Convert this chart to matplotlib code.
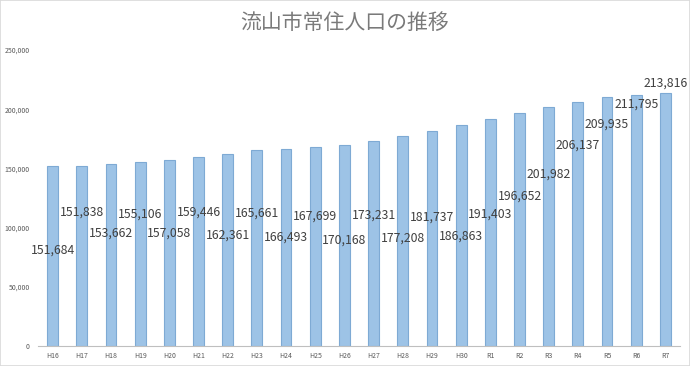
import matplotlib.pyplot as plt
from matplotlib.patches import Rectangle

plt.rcParams['font.family'] = ['Noto Sans CJK JP', 'DejaVu Sans']

# 流山市常住人口 (各年)
years = ['H16', 'H17', 'H18', 'H19', 'H20', 'H21', 'H22', 'H23', 'H24', 'H25', 'H26',
         'H27', 'H28', 'H29', 'H30', 'R1', 'R2', 'R3', 'R4', 'R5', 'R6', 'R7']
population = [151684, 151838, 153662, 155106, 157058, 159446, 162361, 165661, 166493,
              167699, 170168, 173231, 177208, 181737, 186863, 191403, 196652, 201982,
              206137, 209935, 211795, 213816]

# where each data label sits (hand placed in the original)
label_y = [81000, 113000, 95000, 111000, 95000, 113000, 94000, 112500, 92000, 109500,
           89500, 110500, 91000, 108500, 93000, 111000, 126500, 145500, 170000, 187000,
           204500, 222300]

fig = plt.figure(figsize=(6.9, 3.66), dpi=100)
ax = fig.add_axes([38 / 690, 20 / 366, 642 / 690, 296 / 366])

x = range(len(years))
ax.bar(x, population, width=0.37, color='#9dc3e6', edgecolor='#7eaad4', linewidth=0.8)

for i, v in enumerate(population):
    ax.text(i, label_y[i], '{:,}'.format(v), ha='center', va='center',
            fontsize=8.8, color='#404040')

ax.set_xlim(-0.5, len(years) - 0.5)
ax.set_ylim(0, 250000)
ax.set_yticks(range(0, 250001, 50000))
ax.set_yticklabels(['{:,}'.format(t) for t in range(0, 250001, 50000)])
ax.set_xticks(list(x))
ax.set_xticklabels(years)
ax.tick_params(axis='y', length=0, labelsize=5, labelcolor='#595959', pad=6)
ax.tick_params(axis='x', length=0, labelsize=5, labelcolor='#595959', pad=4)

for s in ['top', 'right', 'left']:
    ax.spines[s].set_visible(False)
ax.spines['bottom'].set_color('#bfbfbf')
ax.spines['bottom'].set_linewidth(0.8)

fig.text(0.5, 1 - 23 / 366, '流山市常住人口の推移', ha='center', va='center',
         fontsize=15, color='#7a7a7a')

fig.patches.append(Rectangle((0, 0), 1, 1, transform=fig.transFigure, fill=False,
                             edgecolor='#d9d9d9', linewidth=1.2))

fig.savefig('out.png', dpi=100)
